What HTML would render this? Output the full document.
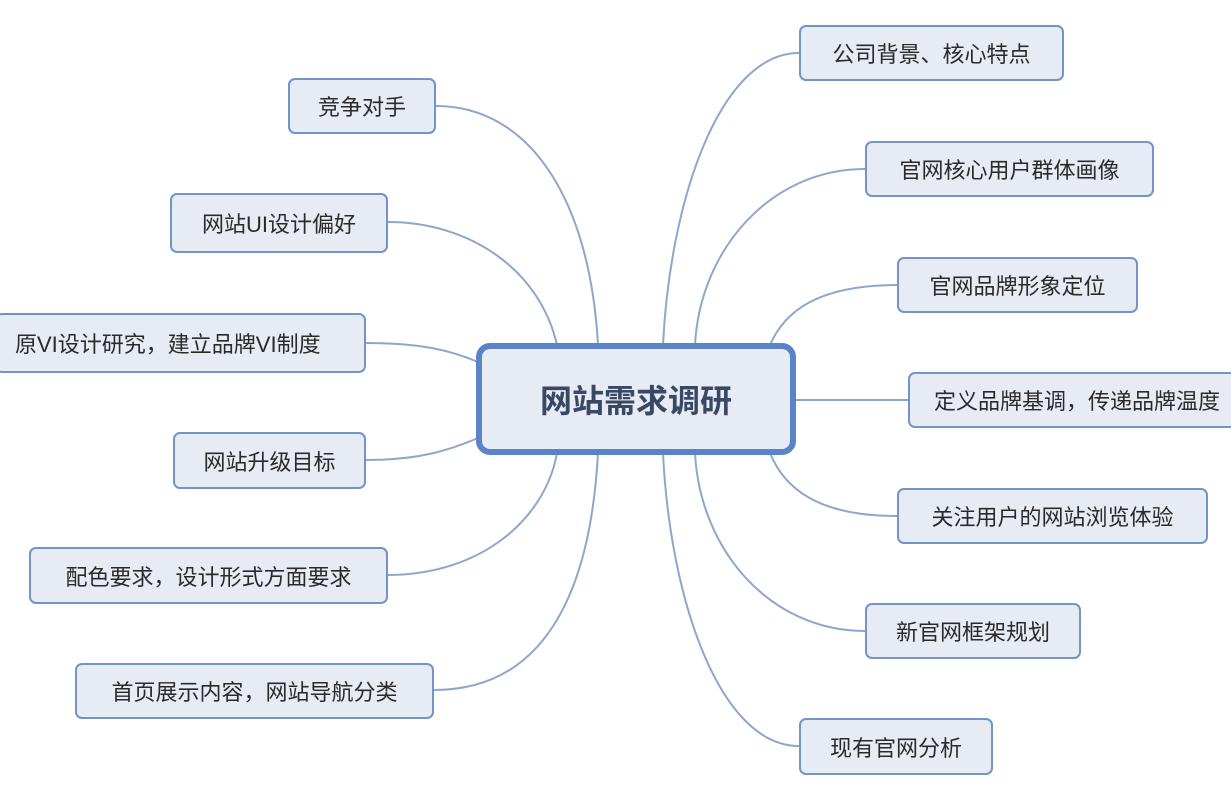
<!DOCTYPE html>
<html><head><meta charset="utf-8"><style>
body{margin:0;width:1231px;height:800px;background:#fff;overflow:hidden;position:relative;font-family:"Liberation Sans","Noto Sans CJK SC",sans-serif}
.n{position:absolute;box-sizing:border-box;background:#e6ebf4;border:2px solid #7393c9;border-radius:7px;display:flex;align-items:center;justify-content:center;font-size:22px;color:#2a2a2a;white-space:nowrap}
.m{position:absolute;left:476px;top:343px;width:320px;height:112px;box-sizing:border-box;border:6px solid #5b84c8;border-radius:14px;background:#e6ebf4;display:flex;align-items:center;justify-content:center;font-size:32px;font-weight:bold;color:#3a4866}
svg{position:absolute;left:0;top:0}
</style></head><body>
<svg width="1231" height="800" fill="none" stroke="#8fa6cc" stroke-width="2">
<path d="M436,106 C530,106 590,200 598,345"/>
<path d="M388,222 C470,222 540,270 557,345"/>
<path d="M366,343 C420,343 450,350 478,362"/>
<path d="M366,460 C420,460 450,450 478,438"/>
<path d="M388,575 C480,575 545,520 557,453"/>
<path d="M434,690 C540,690 590,600 598,453"/>
<path d="M799,53 C720,53 670,200 663,345"/>
<path d="M865,169 C770,169 700,250 695,345"/>
<path d="M897,285 C820,285 785,310 770,345"/>
<path d="M796,400 L908,400"/>
<path d="M897,516 C820,516 785,490 770,453"/>
<path d="M865,631 C770,631 700,550 695,453"/>
<path d="M799,746 C720,746 670,600 663,453"/>
</svg>
<div class="m">网站需求调研</div>
<div class="n" style="left:288px;top:78px;width:148px;height:56px">竞争对手</div>
<div class="n" style="left:170px;top:193px;width:218px;height:60px">网站UI设计偏好</div>
<div class="n" style="left:-5px;top:313px;width:371px;height:60px;justify-content:flex-start;padding-left:18px">原VI设计研究，建立品牌VI制度</div>
<div class="n" style="left:173px;top:432px;width:193px;height:57px">网站升级目标</div>
<div class="n" style="left:29px;top:547px;width:359px;height:57px">配色要求，设计形式方面要求</div>
<div class="n" style="left:75px;top:663px;width:359px;height:56px">首页展示内容，网站导航分类</div>
<div class="n" style="left:799px;top:25px;width:265px;height:56px">公司背景、核心特点</div>
<div class="n" style="left:865px;top:141px;width:289px;height:56px">官网核心用户群体画像</div>
<div class="n" style="left:897px;top:257px;width:241px;height:56px">官网品牌形象定位</div>
<div class="n" style="left:908px;top:372px;width:340px;height:56px;justify-content:flex-start;padding-left:24px">定义品牌基调，传递品牌温度</div>
<div class="n" style="left:897px;top:488px;width:311px;height:56px">关注用户的网站浏览体验</div>
<div class="n" style="left:865px;top:603px;width:216px;height:56px">新官网框架规划</div>
<div class="n" style="left:799px;top:718px;width:194px;height:57px">现有官网分析</div>
</body></html>
